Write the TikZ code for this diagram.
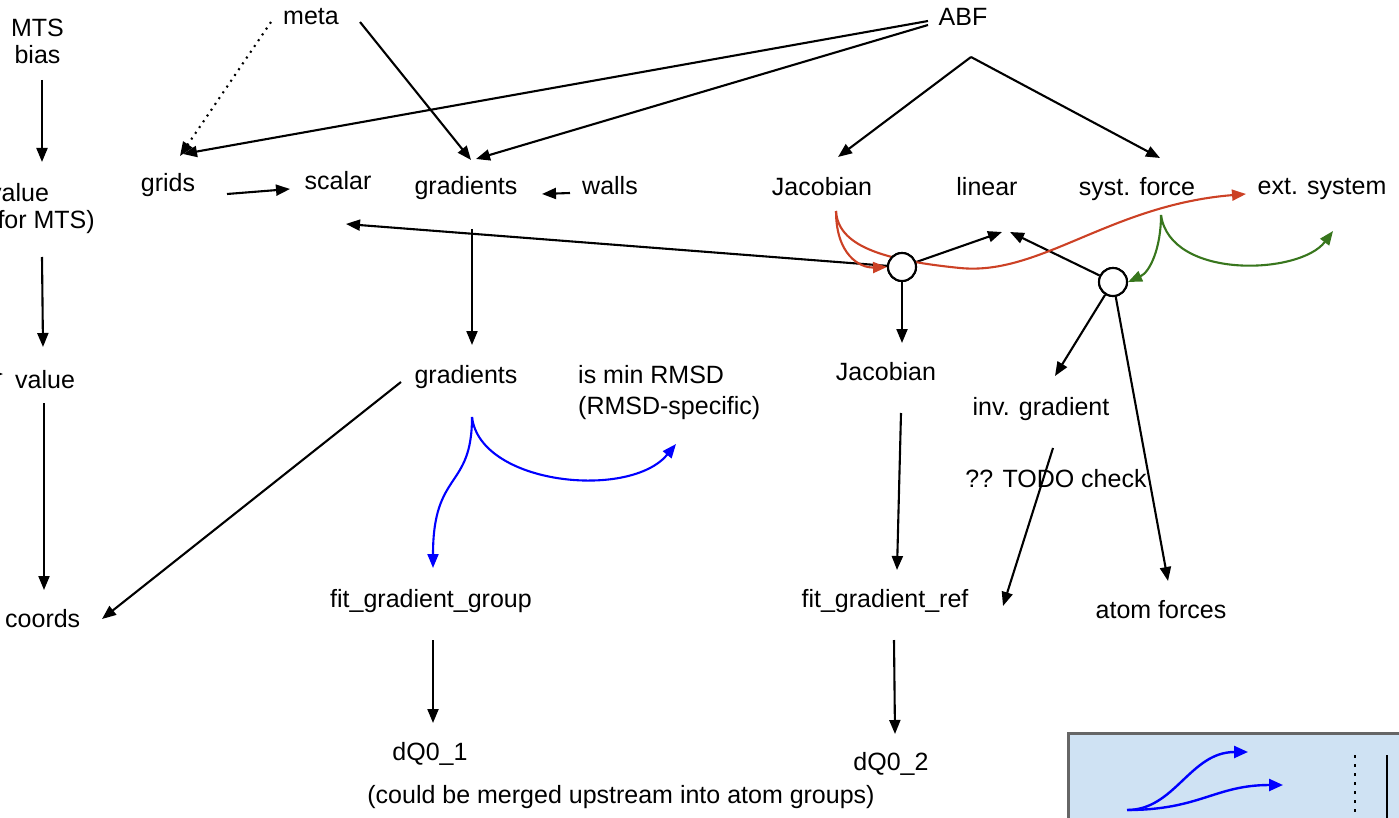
\documentclass[tikz,border=0pt]{standalone}
\usepackage{fontspec}
\setmainfont{Liberation Sans}
\usetikzlibrary{arrows.meta}
\definecolor{redc}{HTML}{CC4125}
\definecolor{greenc}{HTML}{38761D}
\definecolor{bluec}{HTML}{0000FF}
\definecolor{boxfill}{HTML}{CFE2F3}
\definecolor{boxline}{HTML}{666666}
\begin{document}
\begin{tikzpicture}[x=1pt,y=-1pt,
  lbl/.style={inner sep=0pt, anchor=base, font=\fontsize{25}{27}\selectfont},
  conn/.style={line width=2.1pt, -{Triangle[length=14pt,width=11pt]}},
  sparsedots/.style={dash pattern=on 2pt off 5pt},
  redconn/.style={conn, redc},
  greenconn/.style={conn, greenc},
  blueconn/.style={conn, bluec},
  hub/.style={circle, draw, line width=2.1pt, minimum size=28pt, inner sep=0pt, fill=white},
]
\useasboundingbox (0,0) rectangle (1399,818);
\clip (0,0) rectangle (1399,818);

% ---- text nodes ----
\node[lbl, align=center] (mts) at (37.5,64) {MTS\\bias};
\node[lbl, align=left, anchor=base west] (valmts) at (-11,229) {value\\(for MTS)};
\node[lbl, anchor=base west] (value) at (15,388) {value};
\node[lbl, anchor=base west] (coords) at (5,627) {coords};
\node[lbl] (meta) at (311,25) {meta};
\node[lbl] (abf) at (963,26) {ABF};
\node[lbl] (grids) at (168,192) {grids};
\node[lbl] (scalar) at (338,190) {scalar};
\node[lbl] (grad1) at (466,195) {gradients};
\node[lbl] (walls) at (610,195) {walls};
\node[lbl] (jac1) at (822,196) {Jacobian};
\node[lbl] (linear) at (987,196) {linear};
\node[lbl] (sysf) at (1137,196) {syst. force};
\node[lbl] (ext) at (1322,195) {ext. system};
\node[lbl] (grad2) at (466,383) {gradients};
\node[lbl, align=left, anchor=base west, font=\fontsize{25}{31}\selectfont] (rmsd) at (578,414) {is min RMSD\\(RMSD-specific)};
\node[lbl] (jac2) at (886,380) {Jacobian};
\node[lbl] (invg) at (1041,415) {inv. gradient};
\node[lbl] (todo) at (1056,487) {?? TODO check};
\node[lbl] (fgg) at (431,607) {fit\_gradient\_group};
\node[lbl] (fgr) at (885,607) {fit\_gradient\_ref};
\node[lbl] (atomf) at (1161,618) {atom forces};
\node[lbl] (dq1) at (430,760) {dQ0\_1};
\node[lbl] (dq2) at (891,770) {dQ0\_2};
\node[lbl] (merge) at (621,803) {(could be merged upstream into atom groups)};

% ---- hub circles ----
\node[hub] (c1) at (902,267) {};
\node[hub] (c2) at (1113,282) {};

% ---- connector end points ----
\coordinate (mts-out) at (42,80);
\coordinate (valmts-in) at (42,162);
\coordinate (valmts-out) at (42,257);
\coordinate (value-in) at (43,347);
\coordinate (value-out) at (44,403);
\coordinate (coords-in) at (44,590);
\coordinate (coords-in2) at (102,619);
\coordinate (grad2-outL) at (401,382);
\coordinate (value-inL) at (3,374);
\coordinate (value-srcL) at (-60,374);
\coordinate (meta-outL) at (271,22);
\coordinate (meta-outR) at (360,22);
\coordinate (grids-in1) at (180,156);
\coordinate (grids-in2) at (183,154);
\coordinate (grad1-in) at (471,160);
\coordinate (grad1-in2) at (476,159);
\coordinate (abf-out1) at (928,21);
\coordinate (abf-out2) at (928,25);
\coordinate (abf-outB) at (971,57);
\coordinate (jac1-in) at (838,157);
\coordinate (sysf-in) at (1160,158);
\coordinate (grids-out) at (227,194);
\coordinate (scalar-in) at (290,189);
\coordinate (walls-out) at (570,193);
\coordinate (grad1-inR) at (542,194);
\coordinate (scalar-in2) at (346,224);
\coordinate (grad1-out) at (472,229);
\coordinate (grad2-in) at (472,345);
\coordinate (linear-in1) at (1002,232);
\coordinate (linear-in2) at (1010,232);
\coordinate (jac2-in) at (902,343);
\coordinate (invg-in) at (1055,376);
\coordinate (atomf-in) at (1168,581);
\coordinate (jac2-out) at (901,413);
\coordinate (fgr-in) at (897,570);
\coordinate (invg-out) at (1053,448);
\coordinate (fgr-inR) at (1003,606);
\coordinate (fgg-out) at (433,640);
\coordinate (dq1-in) at (433,723);
\coordinate (fgr-out) at (894,640);
\coordinate (dq2-in) at (895,734);
\coordinate (jac1-out) at (836,211);
\coordinate (ext-in) at (1246,194);
\coordinate (sysf-out) at (1161,215);
\coordinate (ext-in2) at (1333,231);
\coordinate (grad2-out) at (472,417);
\coordinate (fgg-in) at (433,568);
\coordinate (rmsd-in) at (676,444);

% ---- black connectors ----
\draw[conn] (mts-out) -- (valmts-in);
\draw[conn] (valmts-out) -- (value-in);
\draw[conn] (value-out) -- (coords-in);
\draw[conn] (value-srcL) -- (value-inL);
\draw[conn] (grad2-outL) -- (coords-in2);
\draw[conn, sparsedots] (meta-outL) -- (grids-in1);
\draw[conn] (meta-outR) -- (grad1-in);
\draw[conn] (abf-out1) -- (grids-in2);
\draw[conn] (abf-out2) -- (grad1-in2);
\draw[conn] (abf-outB) -- (jac1-in);
\draw[conn] (abf-outB) -- (sysf-in);
\draw[conn] (grids-out) -- (scalar-in);
\draw[conn] (walls-out) -- (grad1-inR);
\draw[conn] (c1) -- (scalar-in2);
\draw[conn] (grad1-out) -- (grad2-in);
\draw[conn] (c1) -- (linear-in1);
\draw[conn] (c2) -- (linear-in2);
\draw[conn] (c1) -- (jac2-in);
\draw[conn] (c2) -- (invg-in);
\draw[conn] (c2) -- (atomf-in);
\draw[conn] (jac2-out) -- (fgr-in);
\draw[conn] (invg-out) -- (fgr-inR);
\draw[conn] (fgg-out) -- (dq1-in);
\draw[conn] (fgr-out) -- (dq2-in);

% ---- coloured connectors ----
\draw[redconn] (jac1-out) .. controls (836,255) and (860,268) .. (c1.west);
\draw[redconn] (jac1-out) .. controls (838,245) and (880,260) .. (960,268)
  .. controls (1040,276) and (1110,205) .. (ext-in);
\draw[greenconn] (sysf-out) .. controls (1161,248) and (1150,272) .. (c2.east);
\draw[greenconn] (sysf-out) .. controls (1170,280) and (1300,275) .. (ext-in2);
\draw[blueconn] (grad2-out) .. controls (472,490) and (433,470) .. (fgg-in);
\draw[blueconn] (grad2-out) .. controls (480,485) and (630,500) .. (rmsd-in);

% redraw hubs on top of the red curve
\node[hub] at (c1) {};
\node[hub] at (c2) {};

% ---- legend box (partially visible) ----
\node[draw=boxline, fill=boxfill, line width=3pt, minimum width=400pt, minimum height=150pt, anchor=north west, inner sep=0pt] (legend) at (1067,732) {};
\coordinate (lg-start) at (1127,810);
\coordinate (lg-tip1) at (1248,752);
\coordinate (lg-tip2) at (1283,785);
\coordinate (lg-dot-top) at (1355,755);
\coordinate (lg-dot-bot) at (1355,830);
\coordinate (lg-sol-top) at (1387,755);
\coordinate (lg-sol-bot) at (1387,830);
\draw[bluec, line width=2.4pt, -{Triangle[length=14pt,width=12pt]}] (lg-start) .. controls (1175,810) and (1190,752) .. (lg-tip1);
\draw[bluec, line width=2.4pt, -{Triangle[length=14pt,width=12pt]}] (lg-start) .. controls (1200,810) and (1215,785) .. (lg-tip2);
\draw[line width=2.5pt, dash pattern=on 2.5pt off 6.5pt] (lg-dot-top) -- (lg-dot-bot);
\draw[line width=2pt] (lg-sol-top) -- (lg-sol-bot);
\end{tikzpicture}
\end{document}
